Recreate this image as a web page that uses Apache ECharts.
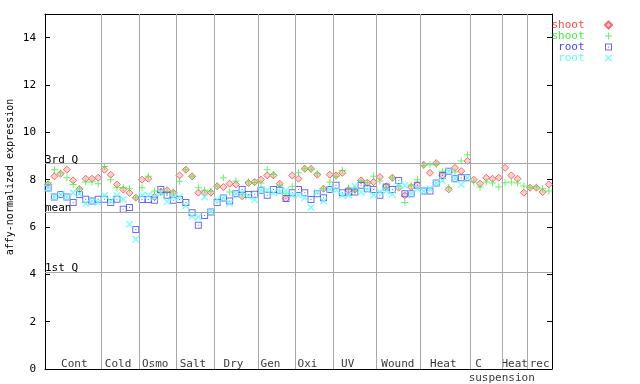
<!DOCTYPE html>
<html><head><meta charset="utf-8">
<script src="https://cdn.jsdelivr.net/npm/echarts@6/dist/echarts.min.js"></script>
<style>html,body{margin:0;padding:0;background:#fff}#c{width:640px;height:384px}</style>
</head><body><div id="c"></div>
<script>
// ---- data ----
const groupNames = ['Cont','Cold','Osmo','Salt','Dry','Gen','Oxi','UV','Wound','Heat','C','suspension','Heat','rec'];
const groupSizes = [9,6,6,6,7,6,6,7,7,8,5,4,4];
const quartileNames = ['3rd Q','mean','1st Q'];
const quartileValues = [8.69, 6.63, 4.10];
const yTicks = [0,2,4,6,8,10,12,14];
const legendNames = ['shoot','shoot','root','root'];

const shootRed = [7.80,8.14,8.25,8.42,7.97,7.60,8.04,8.04,8.08,
  8.42,8.21,7.80,7.58,7.44,7.24,
  8.00,8.04,7.27,7.50,7.55,7.45,
  8.18,8.42,8.14,7.45,7.45,7.45,
  7.72,7.69,7.83,7.80,7.30,7.86,7.90,
  8.00,8.18,8.18,7.83,7.20,8.18,
  8.04,8.46,8.46,8.21,7.62,8.21,
  8.18,8.29,7.55,7.58,7.97,7.87,7.90,
  8.11,7.72,8.08,7.66,7.34,7.69,7.78,
  8.63,8.29,8.70,8.18,7.59,8.50,8.36,8.79,
  8.00,7.83,8.08,8.04,8.08,
  8.50,8.18,8.04,7.45,
  7.66,7.66,7.48,7.80];
const shootGreen = [7.87,8.42,8.29,8.08,7.80,7.62,7.90,7.90,7.83,
  8.56,8.00,7.66,7.66,7.62,7.24,
  7.66,8.14,7.52,7.45,7.48,7.48,
  7.93,8.42,8.14,7.66,7.55,7.51,
  7.73,8.08,7.48,7.94,7.37,7.90,7.88,
  7.86,8.42,8.22,7.76,7.41,7.72,
  8.29,8.46,8.44,8.25,7.62,7.90,
  8.14,8.39,7.65,7.55,7.95,7.87,8.14,
  7.94,7.66,8.08,7.72,7.03,7.76,8.00,
  8.60,8.63,8.63,8.36,7.66,8.32,8.79,9.05,
  7.90,7.69,7.90,7.86,7.69,
  7.87,7.90,7.86,7.73,
  7.66,7.69,7.62,7.52];
const rootBlue = [7.65,7.27,7.37,7.27,7.04,7.37,7.17,7.10,7.17,
  7.17,7.04,7.17,6.75,6.82,5.89,
  7.16,7.16,7.13,7.58,7.34,7.13,
  7.16,7.03,6.60,6.07,6.49,6.63,
  7.03,7.23,7.10,7.41,7.58,7.37,7.38,
  7.55,7.34,7.58,7.55,7.20,7.45,
  7.58,7.45,7.16,7.41,7.24,7.58,
  7.76,7.45,7.48,7.48,7.76,7.62,7.58,
  7.34,7.69,7.58,7.97,7.41,7.41,7.76,
  7.52,7.52,7.86,8.18,8.36,8.04,8.08,8.08,
  null,null,null,null,null,
  null,null,null,null,
  null,null,null,null];
const rootCyan = [7.65,7.27,7.37,7.27,7.45,7.40,6.99,7.10,7.04,
  7.34,7.10,7.32,7.17,6.12,5.48,
  7.34,7.34,7.27,7.45,7.08,7.27,
  7.27,6.90,6.45,6.42,7.27,6.66,
  7.15,7.23,7.00,7.41,7.45,7.30,7.15,
  7.55,7.55,7.44,7.50,7.55,7.34,
  7.34,7.24,6.82,7.48,7.10,7.58,
  7.55,7.34,7.34,7.73,7.48,7.55,7.34,
  7.48,7.52,7.37,7.76,7.76,7.41,7.62,
  7.52,7.62,7.86,7.97,8.36,8.04,7.80,8.08,
  null,null,null,null,null,
  null,null,null,null,
  null,null,null,null];

// ---- layout (label placement in sample-index units, label row) ----
const labelPos = [4.18,11.17,17.11,23.13,29.61,35.52,41.43,47.85,55.88,63.14,68.76,72.47,74.54,78.53];
const labelRow = [0,0,0,0,0,0,0,0,0,0,0,1,0,0];

const N = shootRed.length;
const FONT = 'DejaVu Sans Mono';
const boundaries = [];
let acc = 0;
for (let g = 0; g < groupSizes.length - 1; g++) { acc += groupSizes[g]; boundaries.push(acc - 0.5); }

function pts(arr){ const out=[]; arr.forEach((v,i)=>{ if(v!=null) out.push([i,v]); }); return out; }

const ids = ['s_red','s_green','r_blue','r_cyan'];
const colors = ['#ff4848','#3ff03f','#4646ff','#5cffff'];
const nameMap = {}; ids.forEach((id,k)=>nameMap[id]=legendNames[k]);

const diamondPath = 'path://M3.5,0L7,3.5L3.5,7L0,3.5Z';
const plusPath = 'path://M3,0H4V3H7V4H4V7H3V4H0V3H3Z';
const squarePath = 'path://M0,0H7V7H0Z M1,1V6H6V1Z M3,3H4V4H3Z';
const xPath = 'path://M0,0L1,0L3.5,2.5L6,0L7,0L7,1L4.5,3.5L7,6L7,7L6,7L3.5,4.5L1,7L0,7L0,6L2.5,3.5L0,1Z';

const chart = echarts.init(document.getElementById('c'), null, {renderer:'canvas'});
const option = {
  animation: false,
  backgroundColor: '#fff',
  grid: {left: 45, right: 88, top: 14, bottom: 15, containLabel: false},
  xAxis: [
    {type:'value', min:-0.5, max:N-0.5, position:'bottom',
     axisLine:{show:true, onZero:false, lineStyle:{color:'#000'}}, axisTick:{show:false}, axisLabel:{show:false}, splitLine:{show:false}},
    {type:'value', min:-0.5, max:N-0.5, position:'top',
     axisLine:{show:true, onZero:false, lineStyle:{color:'#000'}}, axisTick:{show:false}, axisLabel:{show:false}, splitLine:{show:false}}
  ],
  yAxis: [
    {type:'value', min:0, max:15, interval:2, position:'left',
     axisLine:{show:true, onZero:false, lineStyle:{color:'#000'}},
     axisTick:{show:true, inside:true, length:5, lineStyle:{color:'#000'}},
     axisLabel:{show:true, margin:9, color:'#000', fontFamily:FONT, fontSize:11, showMaxLabel:false,
       formatter: v => yTicks.indexOf(v) >= 0 ? String(v) : ''},
     splitLine:{show:false}},
    {type:'value', min:0, max:15, interval:2, position:'right',
     axisLine:{show:true, onZero:false, lineStyle:{color:'#000'}},
     axisTick:{show:true, inside:true, length:5, lineStyle:{color:'#000'}},
     axisLabel:{show:false}, splitLine:{show:false}}
  ],
  legend: {
    orient:'vertical', right: 27, top: 19.5, padding: 0, itemGap: 0,
    align:'right', itemWidth: 38, itemHeight: 7, symbolKeepAspect: true,
    formatter: n => nameMap[n],
    textStyle:{fontFamily:FONT, fontSize:11, lineHeight:11},
    data: ids.map((id,k)=>({name:id, textStyle:{color:colors[k]}}))
  },
  graphic: [
    {type:'text', x: 10, y: 177, rotation: Math.PI/2,
     style:{text:'affy-normalized expression', align:'center', verticalAlign:'middle', font:'10px '+FONT, fill:'#000'}}
  ],
  series: [
    {type:'scatter', name:'labels', z:1, silent:true, symbolSize:0, clip:false,
     data: groupNames.map((g,k)=>[labelPos[k], labelRow[k] ? -0.37 : 0.19, g]),
     label:{show:true, position:'inside', formatter: p => p.data[2], color:'#000', fontFamily:FONT, fontSize:11},
     markLine:{silent:true, symbol:['none','none'], animation:false,
       lineStyle:{color:'#a8a8a8', type:'solid', width:1},
       label:{show:true, position:'insideStartTop', formatter:'{b}', color:'#000', fontFamily:FONT, fontSize:11, distance:[0,-2]},
       emphasis:{disabled:true},
       data: quartileNames.map((q,k)=>({name:q, yAxis:quartileValues[k]}))
         .concat(boundaries.map(b=>({xAxis:b, name:'', label:{show:false}})))
     }},
    {type:'scatter', name:ids[0], z:2, symbol:diamondPath, symbolSize:7, symbolKeepAspect:true,
     itemStyle:{color:'#ffc4c4', borderColor:colors[0], borderWidth:1}, data: pts(shootRed)},
    {type:'scatter', name:ids[1], z:3, symbol:plusPath, symbolSize:7,
     itemStyle:{color:colors[1]}, data: pts(shootGreen)},
    {type:'scatter', name:ids[2], z:4, symbol:squarePath, symbolSize:7,
     itemStyle:{color:colors[2]}, data: pts(rootBlue)},
    {type:'scatter', name:ids[3], z:5, symbol:xPath, symbolSize:7,
     itemStyle:{color:colors[3]}, data: pts(rootCyan)}
  ]
};
chart.setOption(option);
</script></body></html>
